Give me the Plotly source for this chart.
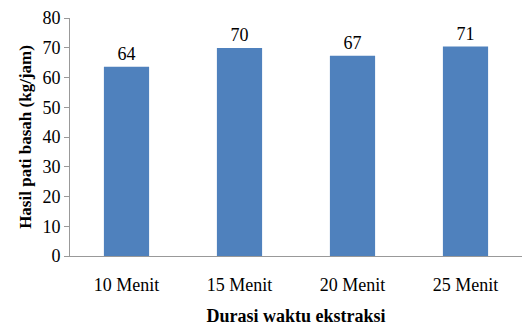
import plotly.graph_objects as go

categories = ["10 Menit", "15 Menit", "20 Menit", "25 Menit"]
values = [63.6, 69.9, 67.3, 70.4]
labels = ["64", "70", "67", "71"]
y_ticks = [0, 10, 20, 30, 40, 50, 60, 70, 80]

FONT = "Liberation Serif, Times New Roman, serif"

fig = go.Figure(
    go.Bar(
        x=categories,
        y=values,
        text=labels,
        textposition="outside",
        textfont=dict(family=FONT, size=18, color="#000000"),
        marker=dict(color="#4F81BD", line=dict(width=0)),
        cliponaxis=False,
    )
)

fig.update_layout(
    width=522,
    height=327,
    margin=dict(l=70, r=0, t=18, b=71),
    paper_bgcolor="white",
    plot_bgcolor="white",
    bargap=0.6,
    showlegend=False,
    font=dict(family=FONT, size=18, color="#000000"),
    xaxis=dict(
        showline=True,
        linecolor="#999999",
        linewidth=1,
        ticks="outside",
        ticklen=12,
        tickcolor="rgba(0,0,0,0)",
        showgrid=False,
        tickfont=dict(family=FONT, size=18, color="#000000"),
        title=dict(
            text="<b>Durasi waktu ekstraksi</b>",
            font=dict(family=FONT, size=18, color="#000000"),
            standoff=15,
        ),
    ),
    yaxis=dict(
        range=[0, 80],
        tickvals=y_ticks,
        showline=True,
        linecolor="#999999",
        linewidth=1,
        ticks="outside",
        ticklen=5,
        tickcolor="#999999",
        showgrid=False,
        zeroline=False,
        tickfont=dict(family=FONT, size=18, color="#000000"),
        title=dict(
            text="<b>Hasil pati basah (kg/jam)</b>",
            font=dict(family=FONT, size=17, color="#000000"),
            standoff=6,
        ),
    ),
)

fig.write_html("out.html")
